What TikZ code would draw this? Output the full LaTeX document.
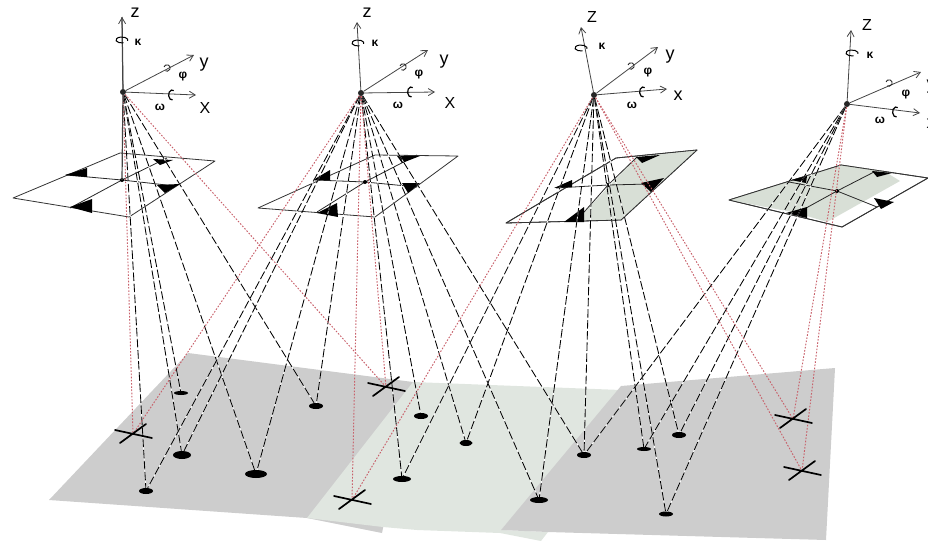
\documentclass[tikz,border=0pt]{standalone}
\usepackage{fontspec}
\setmainfont{Liberation Sans}
\usetikzlibrary{shapes.geometric,arrows.meta}
\definecolor{gnddark}{HTML}{CDCDCD}
\definecolor{gndlight}{HTML}{E0E6E0}
\definecolor{planeshade}{HTML}{D8DFD6}
\definecolor{redray}{HTML}{C8606A}
\definecolor{axisgray}{HTML}{444444}
\tikzset{
  gpt/.style 2 args={ellipse,fill=black,inner sep=0pt,minimum width=#1pt,minimum height=#2pt},
  ray/.style={black,line width=.85pt,dash pattern=on 8.5pt off 2.6pt,
     preaction={draw=white,solid,line width=.8pt}},
  redline/.style={redray,line width=.95pt,dash pattern=on 1.6pt off 1.6pt},
  plane/.style={draw=black!80,line width=.8pt,line join=round,fill=white},
  midline/.style={black!85,line width=.8pt},
  wedge/.style={fill=black,draw=none},
  crossbar/.style={black,line width=1.7pt,line cap=round},
  axis/.style={axisgray,line width=.8pt,-{Straight Barb[length=6pt,width=7pt]}},
  campt/.style={circle,fill=black!85,inner sep=0pt,minimum size=6pt},
  lbl/.style={inner sep=0pt,font=\fontsize{18}{18}\selectfont},
  caplbl/.style={inner sep=0pt,font=\fontsize{16}{16}\selectfont},
  greek/.style={inner sep=0pt,font=\fontsize{12}{12}\selectfont\bfseries},
  rotz/.pic={\draw[black,line width=1pt] (1.5,2.9) arc[start angle=75,end angle=375,x radius=6,y radius=3];},
  roth/.pic={\draw[black,line width=1.2pt] (0.6,4.9) arc[start angle=80,end angle=300,x radius=3.4,y radius=5];},
  roty/.pic={\draw[black!85,line width=.9pt] (-3,-1.1) arc[start angle=200,end angle=480,radius=3.2];},
}
\begin{document}
\begin{tikzpicture}[x=1pt,y=-1pt]
\useasboundingbox (0,0) rectangle (928,541);
% ground
\fill[gnddark] (188,353) -- (49,500) -- (307,518) -- (382,533) -- (413,382) -- cycle;
\fill[gndlight] (413,382) -- (621,390) -- (501,530) -- (548,532) -- (541,541) -- (500,533) -- (417,530) -- (383,527) -- (307,518) -- cycle;
\fill[gnddark] (621,386) -- (835,368) -- (826,540) -- (548,532) -- (501,530) -- cycle;
% image planes
\coordinate (P1l) at (13,198); \coordinate (P1b) at (120,153); \coordinate (P1r) at (215,161); \coordinate (P1f) at (129,217); \coordinate (C1) at (122,180);
\coordinate (P2l) at (258,208); \coordinate (P2b) at (375,155); \coordinate (P2r) at (458,156); \coordinate (P2f) at (375,217); \coordinate (C2) at (365,182);
\coordinate (P3l) at (506,223); \coordinate (P3b) at (616,158); \coordinate (P3r) at (697,150); \coordinate (P3f) at (621,220); \coordinate (C3) at (608,185);
\coordinate (P4l) at (729,200); \coordinate (P4b) at (841,165); \coordinate (P4r) at (928,178); \coordinate (P4f) at (842,227); \coordinate (C4) at (837,191);
\foreach \n in {1,2,3,4} \draw[plane] (P\n l) -- (P\n b) -- (P\n r) -- (P\n f) -- cycle;
\fill[planeshade] (637,157) -- (697,150) -- (621,220) -- (577,220) -- cycle;
\fill[planeshade] (729,200) -- (841,165) -- (884,171) -- (900,181) -- (827,222) -- (797,213) -- cycle;
\draw[plane,fill=none] (P3l) -- (P3b) -- (P3r) -- (P3f) -- cycle;
\draw[plane,fill=none] (P4l) -- (P4b) -- (P4r) -- (P4f) -- cycle;
% plane mid lines
\draw[midline] (66,175) -- (C1) -- (175,186) (167,158) -- (C1) -- (70,208);
\draw[midline] (315,180) -- (C2) -- (417,187) (417,155) -- (C2) -- (317,212);
\draw[midline] (556,188) -- (C3) -- (650,184) (637,157) -- (C3) -- (577,220);
\draw[midline] (789,182) -- (C4) -- (877,207) (874,172) -- (C4) -- (797,213);
% wedges
\fill[wedge] (65,175) -- (87,168) -- (87,177) -- cycle (70,207) -- (92,199) -- (92,213) -- cycle (153,159) -- (173,160) -- (160,165) -- cycle (157,185) -- (180,184) -- (165,193) -- cycle;
\fill[wedge] (313,180) -- (330,170) -- (330,180) -- cycle (317,213) -- (337,203) -- (338,217) -- cycle (397,156) -- (420,156) -- (402,163) -- cycle (402,183) -- (420,183) -- (408,193) -- cycle;
\fill[wedge] (564,222) -- (584,207) -- (584,222) -- cycle (554,188) -- (572,180) -- (572,187) -- cycle (636,157) -- (660,155) -- (642,163) -- cycle (641,183) -- (664,178) -- (651,192) -- cycle;
\fill[wedge] (791,180) -- (807,176) -- (806,183) -- cycle (786,213) -- (807,207) -- (807,218) -- cycle (872,171) -- (892,173) -- (877,177) -- cycle (874,198) -- (894,202) -- (881,209) -- cycle;
\fill[black] (C1) circle (2) (C2) circle (2) (C3) circle (2.2) (C4) circle (2);
% ground points
\node[gpt={14}{6}] (a1) at (146,491) {};
\node[gpt={18}{8}] (a2) at (182,455) {};
\node[gpt={14}{4}] (a3) at (181,393) {};
\node[gpt={22}{8}] (a4) at (256,474) {};
\node[gpt={14}{6}] (a5) at (316,406) {};
\node[gpt={18}{6}] (b1) at (402,479) {};
\node[gpt={14}{6}] (b2) at (421,416) {};
\node[gpt={13}{6}] (b3) at (466,443) {};
\node[gpt={18}{6}] (b4) at (539,500) {};
\node[gpt={14}{6}] (b5) at (584,455) {};
\node[gpt={14}{4}] (c1) at (644,449) {};
\node[gpt={14}{6}] (c2) at (679,435) {};
\node[gpt={14}{5}] (c3) at (666,514) {};
\coordinate (X1) at (133,434);
\coordinate (X2) at (386,387);
\coordinate (X3) at (352,500);
\coordinate (X4) at (793,419);
\coordinate (X5) at (802,471);
% camera centres
\node[campt] (O1) at (123,92) {};
\node[campt] (O2) at (361,93) {};
\node[campt] (O3) at (594,95) {};
\node[campt] (O4) at (847,104) {};
% rays
\foreach \c/\t in {O1/a1,O1/a2,O1/a3,O1/a4,O1/a5,
  O2/a1,O2/a2,O2/a4,O2/a5,O2/b1,O2/b2,O2/b3,O2/b4,O2/b5,
  O3/b1,O3/b3,O3/b4,O3/b5,O3/c1,O3/c2,O3/c3,
  O4/b5,O4/c1,O4/c2,O4/c3}
  \draw[ray] (\c) -- (\t);
\foreach \c/\t in {O1/X1,O1/X2,O2/X1,O2/X2,O2/X3,O3/X3,O3/X4,O3/X5,O4/X4,O4/X5}
  \draw[redline] (\c) -- (\t);
\draw[axisgray,line width=1.2pt] (O1) -- (C1);
% crosses
\foreach \p in {X1,X2,X3,X4,X5}
  \draw[crossbar] (\p) +(-18,-4) -- +(19,4) (\p) +(-13,9) -- +(13,-10);
% axes
\coordinate (Z1) at (122,17); \coordinate (Y1) at (194,55); \coordinate (W1) at (196,95);
\coordinate (Z2) at (357,22); \coordinate (Y2) at (428,50); \coordinate (W2) at (435,92);
\coordinate (Z3) at (581,27); \coordinate (Y3) at (658,47); \coordinate (W3) at (667,89);
\coordinate (Z4) at (851,30); \coordinate (Y4) at (921,72); \coordinate (W4) at (920,113);
\foreach \n in {1,2,3,4} {
  \draw[axis] (O\n) -- (Z\n);
  \draw[axis] (O\n) -- (Y\n);
  \draw[axis] (O\n) -- (W\n);
}
\draw[axisgray,line width=1.2pt] (O1) -- (Z1);
% rotation marks
\pic at (122,40) {rotz}; \pic at (358,43) {rotz}; \pic at (581,48) {rotz}; \pic at (852,53) {rotz};
\pic at (167,68) {roty}; \pic at (403,67) {roty}; \pic at (631,66) {roty}; \pic at (889,83) {roty};
\pic at (172,95) {roth}; \pic at (411,92) {roth}; \pic at (643,92) {roth}; \pic at (896,112) {roth};
% labels
\node[lbl] (lz1) at (135,13) {z};
\node[lbl] (ly1) at (204,65) {y};
\node[caplbl] (lx1) at (205,108) {X};
\node[greek] (lk1) at (138,42) {κ};
\node[greek] (lp1) at (183,77) {φ};
\node[greek] (lw1) at (160,107) {ω};
\node[lbl] (lz2) at (367,13) {z};
\node[lbl] (ly2) at (444,62) {y};
\node[caplbl] (lx2) at (450,103) {X};
\node[greek] (lk2) at (375,43) {κ};
\node[greek] (lp2) at (419,75) {φ};
\node[greek] (lw2) at (398,105) {ω};
\node[caplbl] (lz3) at (592,17) {Z};
\node[lbl] (ly3) at (670,57) {y};
\node[lbl] (lx3) at (678,96) {x};
\node[greek] (lk3) at (602,46) {κ};
\node[greek] (lp3) at (648,73) {φ};
\node[greek] (lw3) at (632,105) {ω};
\node[caplbl] (lz4) at (867,25) {Z};
\node[greek] (lk4) at (870,55) {κ};
\node[greek] (lp4) at (906,95) {φ};
\node[greek] (lw4) at (880,120) {ω};
\begin{scope}
\clip (900,60) rectangle (928,140);
\node[lbl] (ly4) at (931,87) {y};
\node[lbl] (lx4) at (931,124) {x};
\end{scope}
\end{tikzpicture}
\end{document}
